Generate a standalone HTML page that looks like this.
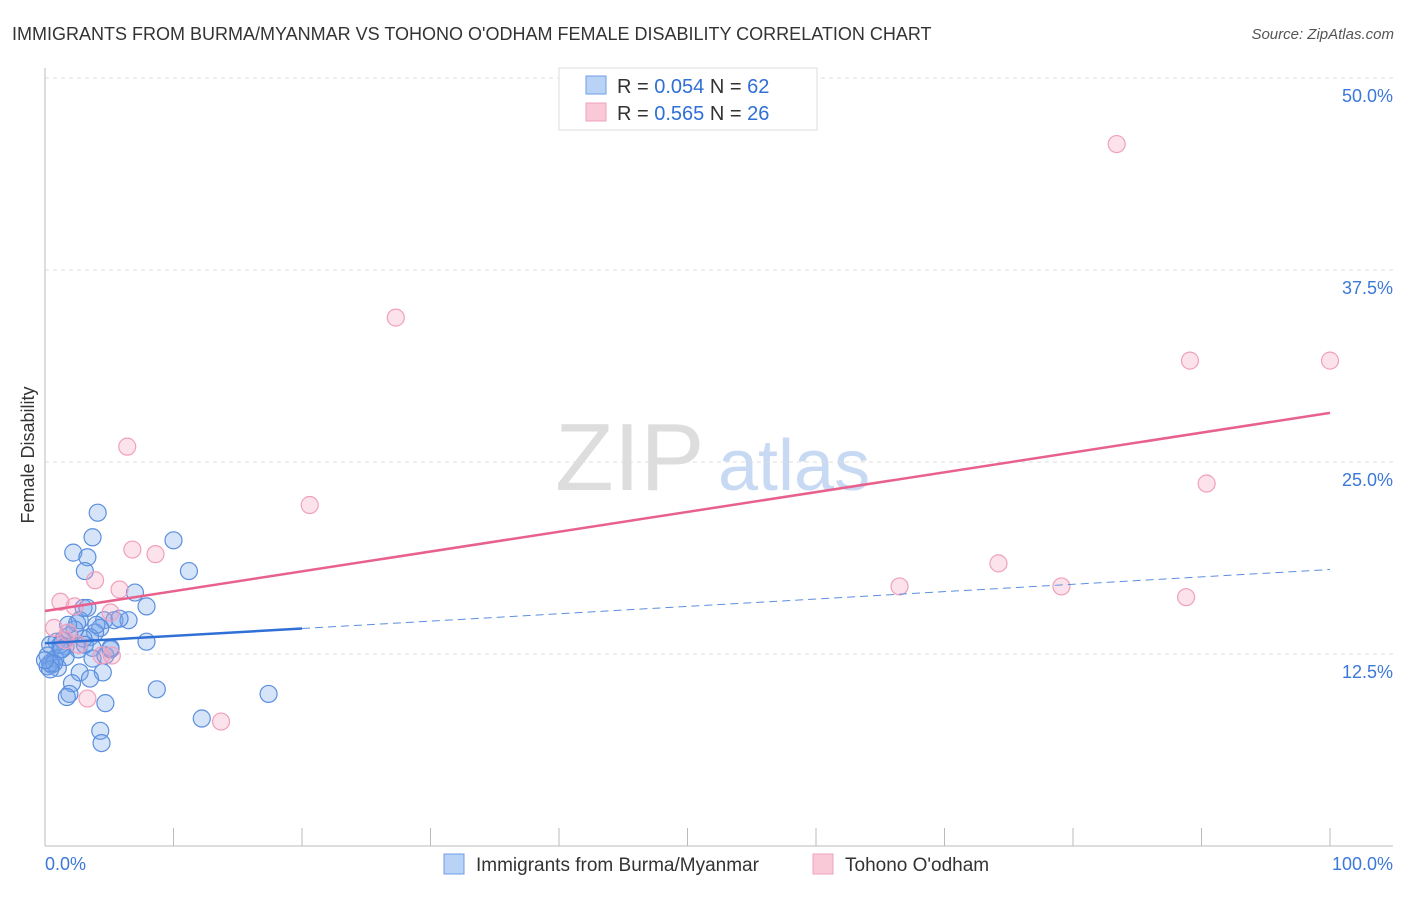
<!DOCTYPE html>
<html><head><meta charset="utf-8"><style>
body{margin:0;background:#fff;font-family:"Liberation Sans",sans-serif}
svg text{font-family:"Liberation Sans",sans-serif}
</style></head><body>
<svg id="chart" width="1406" height="892">
<text x="12" y="40" font-size="18" fill="#333">IMMIGRANTS FROM BURMA/MYANMAR VS TOHONO O'ODHAM FEMALE DISABILITY CORRELATION CHART</text>
<text x="1394" y="39" font-size="15" fill="#555" text-anchor="end" font-style="italic">Source: ZipAtlas.com</text>
<text x="555" y="490" font-size="96" fill="#ddd" font-family="Liberation Serif">ZIP</text>
<text x="718" y="490" font-size="72" fill="#c8daf3">atlas</text>
<text transform="translate(34,455) rotate(-90)" font-size="18" fill="#333" text-anchor="middle">Female Disability</text>
<g id="grid"></g><g id="marks"></g>
<g>
<rect x="559" y="68" width="258" height="62" fill="#fff" stroke="#ddd"/>
<rect x="586" y="76" width="20" height="18" fill="#b9d3f7" stroke="#6e9ee6"/>
<rect x="586" y="103" width="20" height="18" fill="#f9c9d8" stroke="#f0a0bc"/>
<text x="617" y="93" font-size="20" fill="#333">R = <tspan fill="#2f6fd6">0.054</tspan>   N = <tspan fill="#2f6fd6">62</tspan></text>
<text x="617" y="120" font-size="20" fill="#333">R = <tspan fill="#2f6fd6"> 0.565</tspan>   N = <tspan fill="#2f6fd6">26</tspan></text>
</g>
<g>
<rect x="444" y="854" width="20" height="20" fill="#b9d3f7" stroke="#6e9ee6"/>
<text x="476" y="871" font-size="19" fill="#333">Immigrants from Burma/Myanmar</text>
<rect x="813" y="854" width="20" height="20" fill="#f9c9d8" stroke="#f0a0bc"/>
<text x="845" y="871" font-size="19" fill="#333">Tohono O'odham</text>
</g>
<text x="45" y="870" font-size="18" fill="#3b78d8">0.0%</text>
<text x="1393" y="870" font-size="18" fill="#3b78d8" text-anchor="end">100.0%</text>
</svg>
<script>
const yTicks=[12.5,25,37.5,50];
const yTickLabels=["12.5%","25.0%","37.5%","50.0%"];
const xTicks=[0,10,20,30,40,50,60,70,80,90,100];
const blueX=[4.1,3.7,2.2,3.3,3.1,7.0,7.9,10.0,11.2,3.0,3.3,2.7,2.5,4.6,5.4,6.5,4.3,3.9,3.5,1.9,1.4,0.9,0.4,1.6,7.9,1.2,2.6,3.7,5.1,0.2,0.8,1.6,3.7,4.7,0.5,1.0,0.2,0.4,2.7,4.5,3.5,2.1,1.9,1.7,8.7,17.4,4.7,4.3,12.2,4.4,1.2,3.0,2.3,0.7,1.3,0.4,5.1,0.0,4.0,5.8,1.8,3.1];
const blueY=[21.7,20.1,19.1,18.8,17.9,16.5,15.6,19.9,17.9,15.5,15.5,14.7,14.5,14.7,14.7,14.7,14.2,13.9,13.6,13.7,13.4,13.3,13.1,13.0,13.3,12.8,12.8,12.9,12.8,12.4,12.2,12.3,12.2,12.4,11.8,11.6,11.7,11.9,11.3,11.3,10.9,10.6,9.9,9.7,10.2,9.9,9.3,7.5,8.3,6.7,13.1,13.5,14.1,11.9,12.8,11.5,12.9,12.1,14.4,14.8,14.4,13.1];
const pinkX=[83.4,27.3,89.1,100,6.4,20.6,90.4,6.8,8.6,3.9,5.8,74.2,66.5,79.1,88.8,1.2,2.3,5.1,0.7,1.8,4.4,5.2,3.3,13.7,2.6,1.6];
const pinkY=[45.7,34.4,31.6,31.6,26.0,22.2,23.6,19.3,19.0,17.3,16.7,18.4,16.9,16.9,16.2,15.9,15.6,15.2,14.2,13.9,12.4,12.4,9.6,8.1,13.1,13.4];
const blueTrend=[13.2,18.0];
const pinkTrend=[15.3,28.2];
const blueSolidEnd=20;
const NS="http://www.w3.org/2000/svg";
const X=v=>45+v*12.85, Y=v=>846-v*15.36;
const grid=document.getElementById('grid'), marks=document.getElementById('marks');
function mk(tag,attrs,parent){const e=document.createElementNS(NS,tag);for(const k in attrs)e.setAttribute(k,attrs[k]);parent.appendChild(e);return e;}
yTicks.forEach((t,i)=>{
 const l=mk('line',{x1:45,x2:1393,y1:Y(t),y2:Y(t),stroke:'#ddd','stroke-dasharray':'4,4'},grid);
 
 
 const tx=mk('text',{x:1393,y:Y(t)+24,'font-size':18,fill:'#3b78d8','text-anchor':'end'},grid);
 tx.textContent=yTickLabels[i];
 
 
});
const ax=mk('line',{x1:45,x2:1393,y1:846,y2:846,stroke:'#bbb'},grid);


const ay=mk('line',{x1:45,x2:45,y1:68,y2:846,stroke:'#bbb'},grid);


xTicks.forEach(t=>{
 const l=mk('line',{x1:X(t),x2:X(t),y1:828,y2:846,stroke:'#bbb'},grid);
 
 
});
blueX.forEach((v,i)=>{
 const c=mk('circle',{cx:X(v),cy:Y(blueY[i]),r:8.5,fill:'rgba(120,165,235,0.3)',stroke:'#5b8fde','stroke-width':1.2},marks);
 
 
});
pinkX.forEach((v,i)=>{
 const c=mk('circle',{cx:X(v),cy:Y(pinkY[i]),r:8.5,fill:'rgba(245,160,190,0.3)',stroke:'#f0a0bc','stroke-width':1.2},marks);
 
 
});
const bAt=x=>blueTrend[0]+(blueTrend[1]-blueTrend[0])*x/100;
const pl=mk('line',{x1:X(0),y1:Y(pinkTrend[0]),x2:X(100),y2:Y(pinkTrend[1]),stroke:'#e8618c','stroke-width':2.5},marks);


const bl=mk('line',{x1:X(0),y1:Y(bAt(0)),x2:X(blueSolidEnd),y2:Y(bAt(blueSolidEnd)),stroke:'#2f6fd6','stroke-width':2.5},marks);


const bd=mk('line',{x1:X(blueSolidEnd),y1:Y(bAt(blueSolidEnd)),x2:X(100),y2:Y(bAt(100)),stroke:'#5b8fde','stroke-width':1,'stroke-dasharray':'8,5'},marks);


</script>
</body></html>
